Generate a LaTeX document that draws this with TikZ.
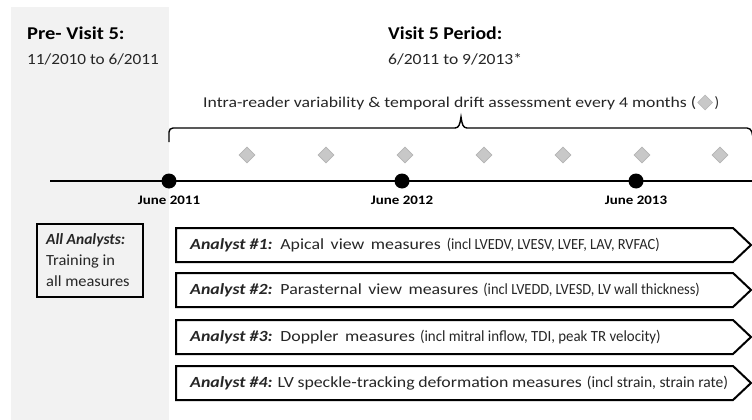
\documentclass[tikz,border=0pt]{standalone}
\usepackage{fontspec}
\setmainfont{Carlito}
\usetikzlibrary{arrows.meta,shapes.geometric}
\definecolor{bgpanel}{HTML}{F2F2F2}
\definecolor{txt}{HTML}{262626}
\definecolor{dia}{HTML}{C8C8C8}
\definecolor{diaedge}{HTML}{B4B4B4}
\newcommand{\sx}[2]{\scalebox{#1}[1]{#2}}
\newcommand{\wide}[2]{\sx{1.15}{\spaceskip=#1 plus 1pt#2}}
\newcommand{\inclpart}[2]{{\fontsize{15.5}{18}\selectfont\sx{#1}{#2}}}
\newcommand{\anl}[1]{\textbf{\textit{Analyst\hspace{3.6pt}\##1:}}}
\begin{document}
\begin{tikzpicture}[x=1pt,y=-1pt,
  title/.style={anchor=base west, inner sep=0pt, font=\fontsize{18}{21}\selectfont\bfseries, text=black},
  sub/.style={anchor=base west, inner sep=0pt, font=\fontsize{15.5}{18}\selectfont, text=txt},
  note/.style={anchor=base west, inner sep=0pt, font=\fontsize{15}{18}\selectfont, text=txt},
  junelbl/.style={anchor=base, inner sep=0pt, font=\fontsize{13}{15}\selectfont\bfseries, text=black},
  tdot/.style={circle, fill=black, minimum size=15pt, inner sep=0pt},
  diam/.style={diamond, fill=dia, draw=diaedge, line width=0.6pt, minimum size=16pt, inner sep=0pt},
  bracepath/.style={line width=1.4pt, rounded corners=4pt},
  abox/.style={draw=black, fill=white, line width=2pt},
  atext/.style={anchor=west, inner sep=0pt, font=\fontsize{15.5}{18}\selectfont, text=txt},
  allbox/.style={draw=black, fill=bgpanel, line width=2pt, inner sep=0pt, minimum width=106pt, minimum height=73pt},
]
\useasboundingbox (0,0) rectangle (752,420);
\fill[white] (0,0) rectangle (752,420);
\fill[bgpanel] (11,7) rectangle (169,420);

% headings
\node[title] (pre) at (27,40) {\sx{1.14}{Pre- Visit 5:}};
\node[sub] (predate) at (27,64) {\sx{1.11}{11/2010 to 6/2011}};
\node[title] (v5) at (388,40) {\sx{1.10}{Visit 5 Period:}};
\node[sub] (v5date) at (388,64) {\sx{1.13}{6/2011 to 9/2013*}};

\node[note] (intra) at (203,107) {\sx{1.18}{Intra-reader variability \& temporal drift assessment every 4 months (}};
\node[diam, anchor=west, minimum size=15pt] (idm) at ([xshift=1pt,yshift=4.5pt]intra.base east) {};
\node[note] (iclose) at ([xshift=1.5pt]idm.east |- intra.base) {)};

% brace
\coordinate (bl) at (169,142);
\coordinate (br) at (754,142);
\coordinate (btip) at (461,117);
\draw[bracepath] (bl) -- (169,128) -- (455,128);
\draw[line width=1.4pt] (455,128) .. controls (459,128) and (460,124) .. (btip)
  .. controls (462,124) and (463,128) .. (467,128);
\draw[bracepath] (467,128) -- (751,128) -- (br);

% diamonds
\foreach \i/\x in {1/247,2/326,3/405,4/484,5/563,6/642,7/720}{
  \node[diam] (dm\i) at (\x,155) {};
}

% timeline
\coordinate (tstart) at (50,181);
\coordinate (tend) at (761,181);
\draw[line width=1.5pt, -{Stealth[length=9pt,width=8pt]}] (tstart) -- (tend);
\node[tdot] (d1) at (169,181) {};
\node[tdot] (d2) at (402,181) {};
\node[tdot] (d3) at (636,181) {};
\node[junelbl] (j1) at (169,204) {\sx{1.15}{June 2011}};
\node[junelbl] (j2) at (402,204) {\sx{1.15}{June 2012}};
\node[junelbl] (j3) at (636,204) {\sx{1.15}{June 2013}};

% all analysts box
\node[allbox] (all) at (90,260.5) {};
\node[anchor=north west, inner sep=0pt, align=left, font=\fontsize{15.5}{21}\selectfont, text=txt] (alltxt) at (46,233)
  {\sx{1.0}{\textbf{\textit{All Analysts:}}}\\ \sx{1.06}{Training in}\\ \sx{1.06}{all measures}};

% analyst arrows
\draw[abox] (176,228) -- (733,228) -- (751,245) -- (733,262) -- (176,262) -- cycle;
\draw[abox] (176,273) -- (733,273) -- (751,290) -- (733,307) -- (176,307) -- cycle;
\draw[abox] (176,320) -- (733,320) -- (751,337) -- (733,354) -- (176,354) -- cycle;
\draw[abox] (176,366) -- (733,366) -- (751,383) -- (733,400) -- (176,400) -- cycle;

\node[atext] (a1) at (190,245) {\wide{5.7pt}{\anl{1} Apical view measures}\hspace{6pt}\inclpart{0.93}{(incl LVEDV, LVESV, LVEF, LAV, RVFAC)}};
\node[atext] (a2) at (190,290) {\wide{5.7pt}{\anl{2} Parasternal view measures}\hspace{5pt}\inclpart{0.93}{(incl LVEDD, LVESD, LV wall thickness)}};
\node[atext] (a3) at (190,337) {\wide{5.7pt}{\anl{3} Doppler measures}\hspace{5pt}\inclpart{0.96}{(incl mitral inflow, TDI, peak TR velocity)}};
\node[atext] (a4) at (190,383) {\wide{3.2pt}{\anl{4} LV speckle-tracking deformation measures}\hspace{5pt}\inclpart{1.0}{(incl strain, strain rate)}};
\end{tikzpicture}
\end{document}
